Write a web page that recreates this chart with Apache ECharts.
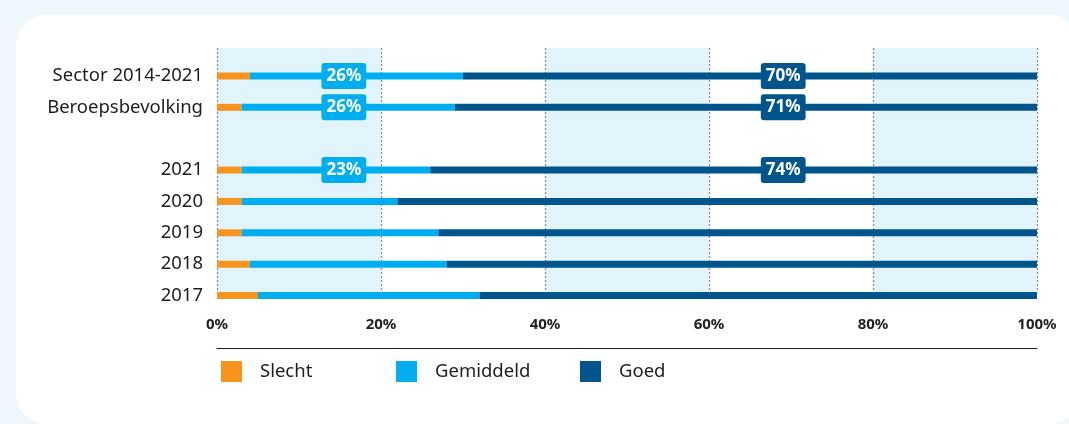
<!DOCTYPE html>
<html>
<head>
<meta charset="utf-8">
<script src="https://cdn.jsdelivr.net/npm/echarts@6/dist/echarts.min.js"></script>
<style>
  html, body { margin: 0; padding: 0; width: 1069px; height: 424px; overflow: hidden; background: #eef7fc; }
  #card { position: absolute; left: 16px; top: 15px; width: 1064px; height: 409px; background: #ffffff; border-radius: 30px; }
  #chart { position: absolute; left: 0; top: 0; width: 1069px; height: 424px; }
</style>
</head>
<body>
<div id="card"></div>
<div id="chart"></div>
<script>
// Rows from top to bottom; the empty entry is the spacer row
const categories = ['Sector 2014-2021', 'Beroepsbevolking', '', '2021', '2020', '2019', '2018', '2017'];
const slecht     = [4, 3, null, 3, 3, 3, 4, 5];
const gemiddeld  = [26, 26, null, 23, 19, 24, 24, 27];
const goed       = [70, 71, null, 74, 78, 73, 72, 68];
// Rows whose percentages get a value badge
const labelledRows = [0, 1, 3];
const xTicks = [0, 20, 40, 60, 80, 100];

const COLORS = { slecht: '#f7941d', gemiddeld: '#00aeef', goed: '#00558c' };
const FONT = '"Noto Sans", "Open Sans", sans-serif';
const PLOT_LEFT = 217, PLOT_WIDTH = 820;
// Badge columns, as share of the plot width
const BADGE_COL = { gemiddeld: 0.1547, goed: 0.6905 };

const chart = echarts.init(document.getElementById('chart'), null, { renderer: 'canvas' });

function badgeData(values, color) {
  return values.map((v, i) => {
    if (labelledRows.indexOf(i) === -1) return v;
    return {
      value: v,
      label: {
        show: true,
        formatter: '{c}%',
        color: '#ffffff',
        fontFamily: FONT,
        fontWeight: 'bold',
        fontSize: 17,
        lineHeight: 21,
        backgroundColor: color,
        borderRadius: 3,
        padding: [3, 5, 2, 5]
      }
    };
  });
}

function badgeLayout(col) {
  return function (p) {
    return {
      x: PLOT_LEFT + PLOT_WIDTH * col,
      y: p.rect.y + p.rect.height / 2,
      align: 'center',
      verticalAlign: 'middle'
    };
  };
}

const legendBase = {
  top: 361,
  padding: 0,
  orient: 'horizontal',
  icon: 'rect',
  itemWidth: 21,
  itemHeight: 21,
  selectedMode: false,
  textStyle: { fontFamily: FONT, fontSize: 18.5, color: '#1d1d1b', padding: [0, 0, 0, 13] }
};

chart.setOption({
  animation: false,
  grid: [
    { left: PLOT_LEFT, width: PLOT_WIDTH, top: 60.3, height: 250.9 },
    { left: PLOT_LEFT, width: PLOT_WIDTH, top: 48, height: 244 },
    { left: PLOT_LEFT, width: PLOT_WIDTH, top: 347, height: 1 }
  ],
  xAxis: [
    {
      gridIndex: 0, type: 'value', min: 0, max: 100,
      axisLine: { show: false }, axisTick: { show: false }, axisLabel: { show: false }, splitLine: { show: false }
    },
    {
      gridIndex: 1, type: 'value', min: xTicks[0], max: xTicks[xTicks.length - 1], interval: 20,
      axisLine: { show: false }, axisTick: { show: false },
      axisLabel: {
        margin: 25, color: '#222222', fontFamily: FONT, fontWeight: 'bold', fontSize: 15,
        formatter: '{value}%'
      },
      splitLine: { show: true, lineStyle: { color: '#8a8a8a', type: [2, 2], width: 1.2 } },
      splitArea: { show: true, areaStyle: { color: ['#e1f3fb', 'rgba(255,255,255,0)'] } }
    },
    {
      gridIndex: 2, type: 'value', min: 0, max: 100, position: 'bottom',
      axisLine: { show: true, lineStyle: { color: '#1d1d1b', width: 1.2 } },
      axisTick: { show: false }, axisLabel: { show: false }, splitLine: { show: false }
    }
  ],
  yAxis: [
    {
      gridIndex: 0, type: 'category', data: categories, inverse: true,
      axisLine: { show: false }, axisTick: { show: false },
      axisLabel: { margin: 14, color: '#1d1d1b', fontFamily: FONT, fontSize: 18.5 }
    },
    { gridIndex: 1, type: 'value', show: false },
    { gridIndex: 2, type: 'value', show: false }
  ],
  legend: [
    Object.assign({ left: 221, data: ['Slecht'] }, legendBase),
    Object.assign({ left: 396, data: ['Gemiddeld'] }, legendBase),
    Object.assign({ left: 580, data: ['Goed'] }, legendBase)
  ],
  series: [
    {
      name: 'Slecht', type: 'bar', stack: 'total', barWidth: 7,
      xAxisIndex: 0, yAxisIndex: 0,
      itemStyle: { color: COLORS.slecht },
      data: slecht
    },
    {
      name: 'Gemiddeld', type: 'bar', stack: 'total', barWidth: 7,
      xAxisIndex: 0, yAxisIndex: 0,
      itemStyle: { color: COLORS.gemiddeld },
      data: badgeData(gemiddeld, COLORS.gemiddeld),
      labelLayout: badgeLayout(BADGE_COL.gemiddeld)
    },
    {
      name: 'Goed', type: 'bar', stack: 'total', barWidth: 7,
      xAxisIndex: 0, yAxisIndex: 0,
      itemStyle: { color: COLORS.goed },
      data: badgeData(goed, COLORS.goed),
      labelLayout: badgeLayout(BADGE_COL.goed)
    }
  ]
});
</script>
</body>
</html>
